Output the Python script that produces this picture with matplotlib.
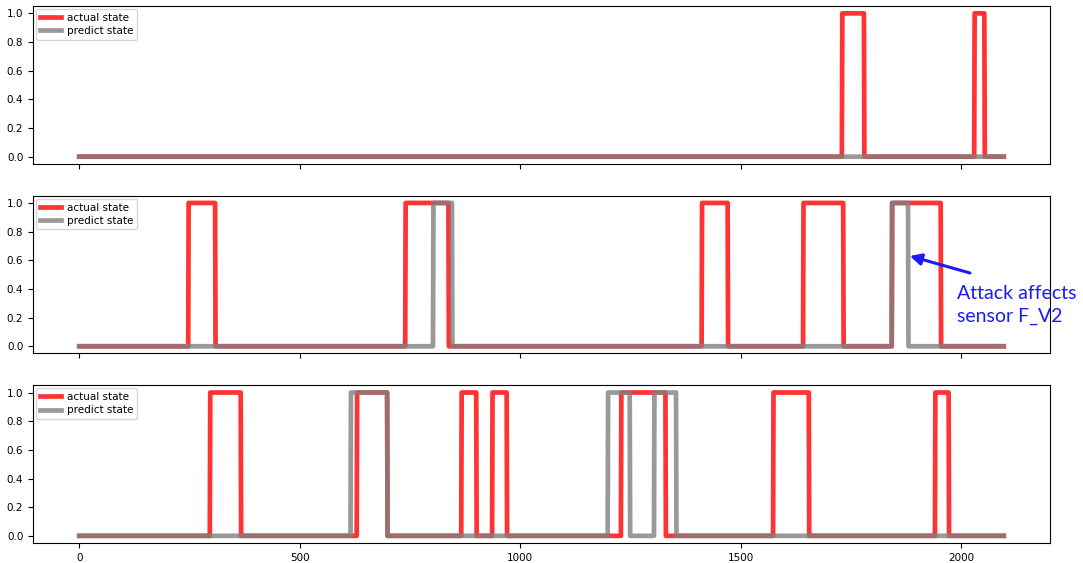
import numpy as np
import matplotlib.pyplot as plt

N = 2097

# (start, end) of each "1" interval, per panel
actual_1 = [(1730, 1779), (2030, 2052)]
predict_1 = []

actual_2 = [(248, 308), (740, 837), (1412, 1470), (1642, 1732), (1843, 1953)]
predict_2 = [(803, 845), (1843, 1879)]

actual_3 = [(297, 366), (630, 698), (867, 900), (937, 969), (1229, 1329),
            (1574, 1654), (1941, 1971)]
predict_3 = [(616, 698), (1199, 1248), (1304, 1353)]

panels = [(actual_1, predict_1), (actual_2, predict_2), (actual_3, predict_3)]


def to_state(intervals):
    s = np.zeros(N)
    for a, b in intervals:
        s[a:b + 1] = 1
    return s


plt.rcParams.update({
    "font.size": 7.5,
    "axes.linewidth": 0.8,
})

fig, axes = plt.subplots(3, 1, figsize=(10.83, 5.63), dpi=100, sharex=True)
fig.subplots_adjust(left=0.0305, right=0.9695, top=0.989, bottom=0.0355,
                    hspace=0.2025)

x = np.arange(N)
for ax, (act, pred) in zip(axes, panels):
    ax.plot(x, to_state(act), color="red", alpha=0.8, lw=3.4, label="actual state")
    ax.plot(x, to_state(pred), color="gray", alpha=0.8, lw=3.4, label="predict state")
    ax.set_yticks([0.0, 0.2, 0.4, 0.6, 0.8, 1.0])
    ax.legend(loc="upper left", fontsize=7.5, handlelength=2.0,
              borderpad=0.35, labelspacing=0.3, handletextpad=0.6,
              borderaxespad=0.3)

axes[2].set_xticks([0, 500, 1000, 1500, 2000])

# annotation on the middle panel
axes[1].annotate("", xy=(1883, 0.63), xycoords="data",
                 xytext=(970, 563 - 273), textcoords="figure pixels",
                 annotation_clip=False,
                 arrowprops=dict(arrowstyle="-|>", color="#1a1aff", lw=2.2,
                                 mutation_scale=17, shrinkA=0, shrinkB=0))
fig.text(957 / 1083, 1 - 305 / 563, "Attack affects\nsensor F_V2",
         color="#1a1aff", fontsize=14, family="Lato",
         ha="left", va="center", linespacing=1.45)

fig.savefig("out.png", dpi=100)
